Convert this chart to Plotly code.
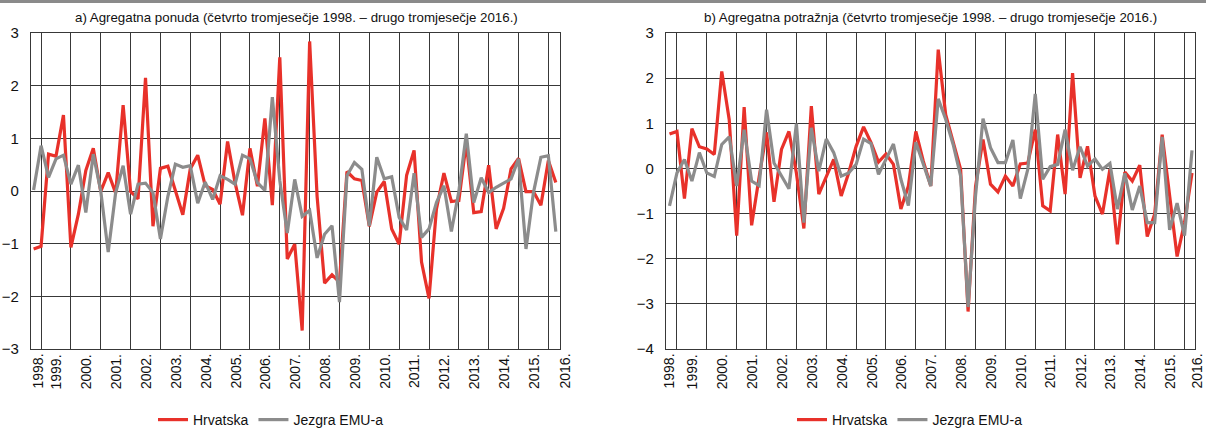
import plotly.graph_objects as go

years = list(range(1998, 2017))
year_labels = [f"{y}." for y in years]

# Quarter index: 0 = 1998Q4 ... 70 = 2016Q2
supply_hr = [-1.10, -1.05, 0.70, 0.66, 1.44, -1.07, -0.44, 0.39, 0.81, -0.01,
             0.35, -0.04, 1.63, -0.01, -0.15, 2.15, -0.67, 0.43, 0.47, 0.00,
             -0.45, 0.42, 0.68, 0.10, 0.03, -0.25, 0.94, 0.16, -0.46, 0.81,
             0.09, 1.38, -0.27, 2.54, -1.29, -1.01, -2.65, 2.84, -0.10, -1.75,
             -1.59, -1.73, 0.37, 0.23, 0.20, -0.67, -0.02, 0.18, -0.72, -1.01,
             0.30, 0.77, -1.35, -2.04, -0.34, 0.34, -0.20, -0.18, 0.92, -0.41,
             -0.39, 0.49, -0.72, -0.33, 0.42, 0.62, -0.01, -0.01, -0.27, 0.58,
             0.16]
supply_emu = [0.02, 0.86, 0.26, 0.61, 0.68, 0.13, 0.49, -0.41, 0.70, 0.00,
              -1.16, -0.03, 0.48, -0.44, 0.13, 0.15, -0.03, -0.91, -0.10, 0.51,
              0.45, 0.48, -0.23, 0.17, -0.16, 0.29, 0.22, 0.13, 0.68, 0.61,
              0.16, 0.01, 1.78, 0.20, -0.80, 0.22, -0.48, -0.37, -1.27, -0.82,
              -0.66, -2.11, 0.29, 0.54, 0.41, -0.66, 0.64, 0.23, 0.27, -0.50,
              -0.74, 0.34, -0.88, -0.72, -0.22, 0.10, -0.77, -0.01, 1.09, -0.22,
              0.25, -0.03, 0.07, 0.15, 0.23, 0.61, -1.10, -0.03, 0.64, 0.67,
              -0.77]
demand_hr = [0.76, 0.82, -0.67, 0.88, 0.48, 0.43, 0.31, 2.15, 1.08, -1.49,
             1.36, -1.26, -0.20, 0.80, -0.74, 0.42, 0.82, -0.10, -1.33, 1.38,
             -0.57, -0.17, 0.20, -0.61, -0.10, 0.49, 0.92, 0.57, 0.14, 0.32,
             0.09, -0.90, -0.39, 0.82, 0.16, -0.39, 2.63, 1.19, 0.60, -0.02,
             -3.17, -0.40, 0.64, -0.35, -0.52, -0.17, -0.39, 0.10, 0.12, 0.86,
             -0.83, -0.94, 0.75, -0.57, 2.11, -0.21, 0.49, -0.61, -1.01, -0.02,
             -1.68, -0.08, -0.28, 0.07, -1.51, -1.01, 0.75, -0.54, -1.95, -1.20,
             -0.10]
demand_emu = [-0.83, -0.10, 0.20, -0.28, 0.35, -0.10, -0.18, 0.53, 0.70, -0.39,
              0.86, -0.28, -0.38, 1.30, 0.12, -0.17, -0.45, 0.99, -1.20, 0.90,
              -0.06, 0.65, 0.35, -0.17, -0.10, 0.09, 0.65, 0.55, -0.13, 0.20,
              0.54, -0.24, -0.82, 0.58, 0.07, -0.39, 1.54, 1.09, 0.53, -0.17,
              -3.07, -0.60, 1.10, 0.46, 0.13, 0.13, 0.63, -0.67, -0.02, 1.65,
              -0.24, 0.04, 0.09, 0.86, -0.04, 0.48, 0.05, 0.21, -0.02, 0.11,
              -0.90, -0.11, -0.92, -0.39, -1.20, -1.20, 0.70, -1.36, -0.77, -1.49,
              0.40]

series_names = ["Hrvatska", "Jezgra EMU-a"]
titles = ["a) Agregatna ponuda (četvrto tromjesečje 1998. – drugo tromjesečje 2016.)",
          "b) Agregatna potražnja (četvrto tromjesečje 1998. – drugo tromjesečje 2016.)"]

RED = "#E8312A"
GRAY = "#8C8C8C"
GRID = "#383838"
FONT = "Liberation Sans Narrow, Arial Narrow, Arial, sans-serif"

W, H = 1206, 432
idx = list(range(len(supply_hr)))

# panel geometry in pixels
PANELS = [
    dict(xa="x", ya="y", hr=supply_hr, emu=supply_emu, legend="legend",
         left=31, right=560, rng=[-0.35, 70.56], yr=[-3, 3], first_lab=37, last_lab=564,
         tcx=296, lcx=271),
    dict(xa="x2", ya="y2", hr=demand_hr, emu=demand_emu, legend="legend2",
         left=666, right=1195, rng=[-0.47, 70.4], yr=[-4, 3], first_lab=668, last_lab=1196,
         tcx=930, lcx=910),
]
TOP, BOT = 33, 349

fig = go.Figure()
for p in PANELS:
    fig.add_trace(go.Scatter(x=idx, y=p["hr"], mode="lines", name=series_names[0],
                             line=dict(color=RED, width=3.2), xaxis=p["xa"], yaxis=p["ya"],
                             legend=p["legend"]))
    fig.add_trace(go.Scatter(x=idx, y=p["emu"], mode="lines", name=series_names[1],
                             line=dict(color=GRAY, width=3.2), xaxis=p["xa"], yaxis=p["ya"],
                             legend=p["legend"]))

ydom = [1 - BOT / H, 1 - TOP / H]
grid_q = [4 * (y - 1999) + 1 for y in years[1:]]

xcommon = dict(showgrid=True, gridcolor=GRID, gridwidth=1.3, tickvals=grid_q,
               showticklabels=False, ticks="", zeroline=False, automargin=False,
               showline=True, linecolor=GRID, linewidth=1.3, mirror=True)
ycommon = dict(showgrid=True, gridcolor=GRID, gridwidth=1.3, dtick=1, ticks="",
               zeroline=False, showline=True, linecolor=GRID, linewidth=1.3, mirror=True,
               automargin=False, ticklabelstandoff=8,
               tickfont=dict(family=FONT, size=15, color="#111"))

layout = dict(
    width=W, height=H,
    margin=dict(l=0, r=0, t=0, b=0, autoexpand=False),
    paper_bgcolor="white", plot_bgcolor="white",
    font=dict(family=FONT, size=13, color="#111"),
    showlegend=True,
)
for k, p in enumerate(PANELS):
    sfx = "" if k == 0 else str(k + 1)
    layout["xaxis" + sfx] = dict(domain=[p["left"] / W, p["right"] / W], range=p["rng"],
                                 anchor=p["ya"], **xcommon)
    layout["yaxis" + sfx] = dict(domain=ydom, range=p["yr"], anchor=p["xa"], tick0=p["yr"][0],
                                 **ycommon)
    layout[p["legend"]] = dict(orientation="h", x=p["lcx"] / W, xanchor="center",
                               y=1 - 420 / H, yanchor="middle",
                               font=dict(family=FONT, size=14, color="#111"),
                               bgcolor="rgba(0,0,0,0)")
fig.update_layout(**layout)

# top rule
fig.add_shape(type="line", xref="paper", yref="paper", x0=0, x1=1, y0=1 - 1.5 / H, y1=1 - 1.5 / H,
              line=dict(color="#8a8a8a", width=3))

annotations = []
for k, p in enumerate(PANELS):
    annotations.append(dict(text=titles[k], xref="paper", yref="paper", x=p["tcx"] / W,
                            y=1 - 17 / H, xanchor="center", yanchor="middle", showarrow=False,
                            font=dict(family=FONT, size=13.3, color="#111")))
    r0, r1 = p["rng"]
    scale = (p["right"] - p["left"]) / (r1 - r0)
    for yv, lab in zip(years, year_labels):
        if yv == 1998:
            px = p["first_lab"]
        elif yv == 2016:
            px = p["last_lab"]
        else:
            px = p["left"] + (4 * (yv - 1999) + 3 - r0) * scale
        annotations.append(dict(text=lab, xref="paper", yref="paper", x=px / W, y=ydom[0],
                                yshift=-3, xanchor="center", yanchor="top", textangle=-90,
                                showarrow=False, font=dict(family=FONT, size=14, color="#111")))
fig.update_layout(annotations=annotations)

fig.write_html("out.html", config={"displayModeBar": False},
               post_script="document.body.style.margin='0px';document.body.style.overflow='hidden';")
